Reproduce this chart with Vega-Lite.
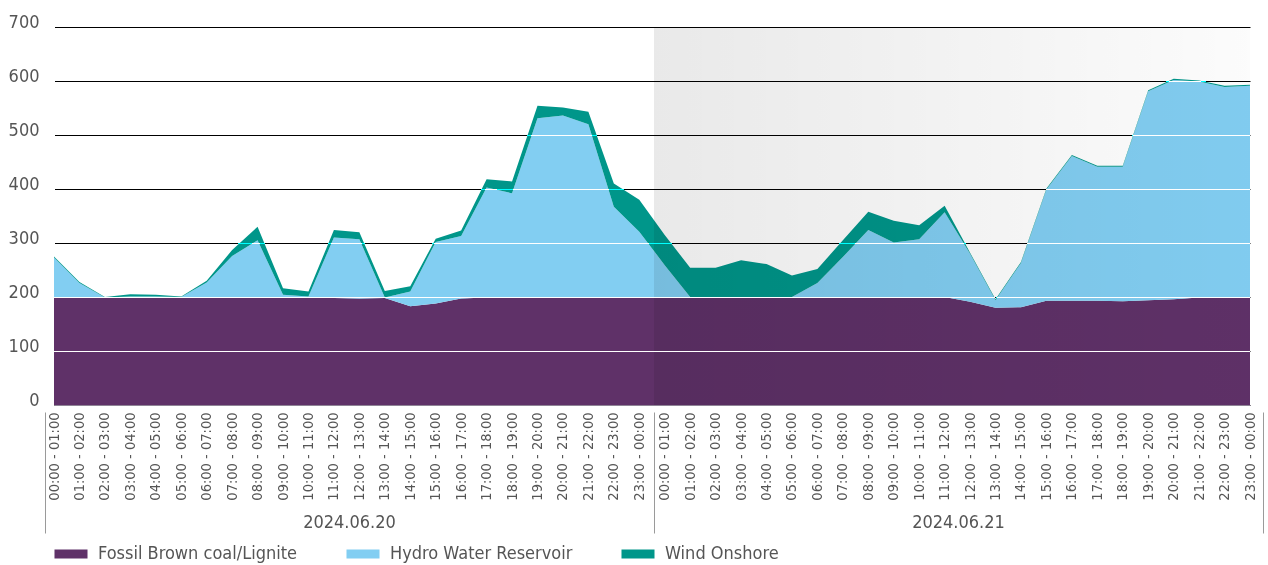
{
  "$schema": "https://vega.github.io/schema/vega-lite/v6.json",
  "width": 1196,
  "height": 378,
  "autosize": {"type": "none"},
  "padding": {"left": 54, "top": 27, "right": 18, "bottom": 160},
  "background": "white",
  "config": {
    "view": {"stroke": null},
    "font": "DejaVu Sans Condensed, Liberation Sans Narrow, DejaVu Sans, sans-serif"
  },
  "datasets": {
    "energy": [
      {"date": "2024.06.20", "hour": "00:00 - 01:00", "Fossil Brown coal/Lignite": 200, "Hydro Water Reservoir": 73, "Wind Onshore": 2},
      {"date": "2024.06.20", "hour": "01:00 - 02:00", "Fossil Brown coal/Lignite": 200, "Hydro Water Reservoir": 26, "Wind Onshore": 2},
      {"date": "2024.06.20", "hour": "02:00 - 03:00", "Fossil Brown coal/Lignite": 198, "Hydro Water Reservoir": 1, "Wind Onshore": 1},
      {"date": "2024.06.20", "hour": "03:00 - 04:00", "Fossil Brown coal/Lignite": 198, "Hydro Water Reservoir": 3, "Wind Onshore": 4},
      {"date": "2024.06.20", "hour": "04:00 - 05:00", "Fossil Brown coal/Lignite": 198, "Hydro Water Reservoir": 3, "Wind Onshore": 3},
      {"date": "2024.06.20", "hour": "05:00 - 06:00", "Fossil Brown coal/Lignite": 198, "Hydro Water Reservoir": 2, "Wind Onshore": 1},
      {"date": "2024.06.20", "hour": "06:00 - 07:00", "Fossil Brown coal/Lignite": 200, "Hydro Water Reservoir": 27, "Wind Onshore": 3},
      {"date": "2024.06.20", "hour": "07:00 - 08:00", "Fossil Brown coal/Lignite": 200, "Hydro Water Reservoir": 76, "Wind Onshore": 11},
      {"date": "2024.06.20", "hour": "08:00 - 09:00", "Fossil Brown coal/Lignite": 200, "Hydro Water Reservoir": 105, "Wind Onshore": 25},
      {"date": "2024.06.20", "hour": "09:00 - 10:00", "Fossil Brown coal/Lignite": 200, "Hydro Water Reservoir": 4, "Wind Onshore": 12},
      {"date": "2024.06.20", "hour": "10:00 - 11:00", "Fossil Brown coal/Lignite": 199, "Hydro Water Reservoir": 2, "Wind Onshore": 9},
      {"date": "2024.06.20", "hour": "11:00 - 12:00", "Fossil Brown coal/Lignite": 198, "Hydro Water Reservoir": 112, "Wind Onshore": 14},
      {"date": "2024.06.20", "hour": "12:00 - 13:00", "Fossil Brown coal/Lignite": 197, "Hydro Water Reservoir": 110, "Wind Onshore": 13},
      {"date": "2024.06.20", "hour": "13:00 - 14:00", "Fossil Brown coal/Lignite": 198, "Hydro Water Reservoir": 1, "Wind Onshore": 12},
      {"date": "2024.06.20", "hour": "14:00 - 15:00", "Fossil Brown coal/Lignite": 183, "Hydro Water Reservoir": 27, "Wind Onshore": 10},
      {"date": "2024.06.20", "hour": "15:00 - 16:00", "Fossil Brown coal/Lignite": 188, "Hydro Water Reservoir": 114, "Wind Onshore": 6},
      {"date": "2024.06.20", "hour": "16:00 - 17:00", "Fossil Brown coal/Lignite": 197, "Hydro Water Reservoir": 116, "Wind Onshore": 10},
      {"date": "2024.06.20", "hour": "17:00 - 18:00", "Fossil Brown coal/Lignite": 199, "Hydro Water Reservoir": 204, "Wind Onshore": 15},
      {"date": "2024.06.20", "hour": "18:00 - 19:00", "Fossil Brown coal/Lignite": 199, "Hydro Water Reservoir": 193, "Wind Onshore": 22},
      {"date": "2024.06.20", "hour": "19:00 - 20:00", "Fossil Brown coal/Lignite": 199, "Hydro Water Reservoir": 332, "Wind Onshore": 23},
      {"date": "2024.06.20", "hour": "20:00 - 21:00", "Fossil Brown coal/Lignite": 200, "Hydro Water Reservoir": 336, "Wind Onshore": 15},
      {"date": "2024.06.20", "hour": "21:00 - 22:00", "Fossil Brown coal/Lignite": 200, "Hydro Water Reservoir": 320, "Wind Onshore": 23},
      {"date": "2024.06.20", "hour": "22:00 - 23:00", "Fossil Brown coal/Lignite": 200, "Hydro Water Reservoir": 167, "Wind Onshore": 43},
      {"date": "2024.06.20", "hour": "23:00 - 00:00", "Fossil Brown coal/Lignite": 200, "Hydro Water Reservoir": 121, "Wind Onshore": 59},
      {"date": "2024.06.21", "hour": "00:00 - 01:00", "Fossil Brown coal/Lignite": 200, "Hydro Water Reservoir": 59, "Wind Onshore": 56},
      {"date": "2024.06.21", "hour": "01:00 - 02:00", "Fossil Brown coal/Lignite": 200, "Hydro Water Reservoir": 0, "Wind Onshore": 54},
      {"date": "2024.06.21", "hour": "02:00 - 03:00", "Fossil Brown coal/Lignite": 200, "Hydro Water Reservoir": 0, "Wind Onshore": 54},
      {"date": "2024.06.21", "hour": "03:00 - 04:00", "Fossil Brown coal/Lignite": 200, "Hydro Water Reservoir": 0, "Wind Onshore": 68},
      {"date": "2024.06.21", "hour": "04:00 - 05:00", "Fossil Brown coal/Lignite": 200, "Hydro Water Reservoir": 0, "Wind Onshore": 61},
      {"date": "2024.06.21", "hour": "05:00 - 06:00", "Fossil Brown coal/Lignite": 200, "Hydro Water Reservoir": 0, "Wind Onshore": 40},
      {"date": "2024.06.21", "hour": "06:00 - 07:00", "Fossil Brown coal/Lignite": 200, "Hydro Water Reservoir": 26, "Wind Onshore": 26},
      {"date": "2024.06.21", "hour": "07:00 - 08:00", "Fossil Brown coal/Lignite": 200, "Hydro Water Reservoir": 74, "Wind Onshore": 31},
      {"date": "2024.06.21", "hour": "08:00 - 09:00", "Fossil Brown coal/Lignite": 200, "Hydro Water Reservoir": 124, "Wind Onshore": 34},
      {"date": "2024.06.21", "hour": "09:00 - 10:00", "Fossil Brown coal/Lignite": 200, "Hydro Water Reservoir": 101, "Wind Onshore": 40},
      {"date": "2024.06.21", "hour": "10:00 - 11:00", "Fossil Brown coal/Lignite": 200, "Hydro Water Reservoir": 107, "Wind Onshore": 26},
      {"date": "2024.06.21", "hour": "11:00 - 12:00", "Fossil Brown coal/Lignite": 200, "Hydro Water Reservoir": 157, "Wind Onshore": 12},
      {"date": "2024.06.21", "hour": "12:00 - 13:00", "Fossil Brown coal/Lignite": 191, "Hydro Water Reservoir": 89, "Wind Onshore": 2},
      {"date": "2024.06.21", "hour": "13:00 - 14:00", "Fossil Brown coal/Lignite": 180, "Hydro Water Reservoir": 14, "Wind Onshore": 2},
      {"date": "2024.06.21", "hour": "14:00 - 15:00", "Fossil Brown coal/Lignite": 181, "Hydro Water Reservoir": 82, "Wind Onshore": 2},
      {"date": "2024.06.21", "hour": "15:00 - 16:00", "Fossil Brown coal/Lignite": 193, "Hydro Water Reservoir": 206, "Wind Onshore": 2},
      {"date": "2024.06.21", "hour": "16:00 - 17:00", "Fossil Brown coal/Lignite": 193, "Hydro Water Reservoir": 268, "Wind Onshore": 2},
      {"date": "2024.06.21", "hour": "17:00 - 18:00", "Fossil Brown coal/Lignite": 193, "Hydro Water Reservoir": 248, "Wind Onshore": 2},
      {"date": "2024.06.21", "hour": "18:00 - 19:00", "Fossil Brown coal/Lignite": 192, "Hydro Water Reservoir": 249, "Wind Onshore": 2},
      {"date": "2024.06.21", "hour": "19:00 - 20:00", "Fossil Brown coal/Lignite": 194, "Hydro Water Reservoir": 387, "Wind Onshore": 2},
      {"date": "2024.06.21", "hour": "20:00 - 21:00", "Fossil Brown coal/Lignite": 196, "Hydro Water Reservoir": 406, "Wind Onshore": 2},
      {"date": "2024.06.21", "hour": "21:00 - 22:00", "Fossil Brown coal/Lignite": 199, "Hydro Water Reservoir": 400, "Wind Onshore": 2},
      {"date": "2024.06.21", "hour": "22:00 - 23:00", "Fossil Brown coal/Lignite": 200, "Hydro Water Reservoir": 389, "Wind Onshore": 2},
      {"date": "2024.06.21", "hour": "23:00 - 00:00", "Fossil Brown coal/Lignite": 200, "Hydro Water Reservoir": 391, "Wind Onshore": 2}
    ],
    "days": [{"date": "2024.06.20"}, {"date": "2024.06.21"}],
    "grid": [{"v": 100}, {"v": 200}, {"v": 300}, {"v": 400}, {"v": 500}, {"v": 600}, {"v": 700}]
  },
  "layer": [
    {
      "data": {"name": "energy"},
      "transform": [
        {"fold": ["Fossil Brown coal/Lignite", "Hydro Water Reservoir", "Wind Onshore"], "as": ["source", "value"]},
        {"calculate": "datum.date + ' ' + datum.hour", "as": "slot"}
      ],
      "mark": {"type": "area", "interpolate": "linear"},
      "encoding": {
        "x": {
          "field": "slot", "type": "ordinal", "sort": null,
          "scale": {"type": "point", "padding": 0},
          "axis": {
            "title": null, "orient": "bottom", "zindex": 1,
            "labelExpr": "slice(datum.label, 11)",
            "labelAngle": 270, "labelOverlap": false, "labelPadding": 7,
            "labelFontSize": 14.5, "labelColor": "#555555",
            "ticks": false, "grid": false,
            "domain": true, "domainColor": "#8f8496", "domainWidth": 1
          }
        },
        "y": {
          "field": "value", "type": "quantitative", "stack": "zero",
          "scale": {"domain": [0, 700], "nice": false, "zero": true},
          "axis": {
            "title": null, "values": [0, 100, 200, 300, 400, 500, 600, 700],
            "grid": true, "gridColor": "#000000", "gridWidth": 1, "gridOpacity": 1,
            "domain": false, "ticks": false,
            "labelPadding": 15, "labelFontSize": 18, "labelColor": "#555555",
            "labelBaseline": "alphabetic", "labelOffset": 0
          }
        },
        "color": {
          "field": "source", "type": "nominal",
          "scale": {
            "domain": ["Fossil Brown coal/Lignite", "Hydro Water Reservoir", "Wind Onshore"],
            "range": ["#5f3168", "#82cef2", "#00968a"]
          },
          "legend": {
            "title": null, "orient": "bottom", "direction": "horizontal",
            "symbolType": "M-1,-0.27L1,-0.27L1,0.27L-1,0.27Z", "symbolSize": 1090,
            "symbolStrokeWidth": 0, "labelLimit": 0,
            "labelFontSize": 18, "labelColor": "#555555", "labelOffset": 10,
            "columnPadding": 48, "offset": 3
          }
        },
        "order": {"field": "source", "type": "nominal", "sort": "ascending"}
      }
    },
    {
      "data": {"name": "days"},
      "mark": {
        "type": "rect", "clip": true,
        "color": {
          "gradient": "linear", "x1": 0, "y1": 0, "x2": 1, "y2": 0,
          "stops": [
            {"offset": 0, "color": "rgba(0,0,0,0.085)"},
            {"offset": 1, "color": "rgba(0,0,0,0.01)"}
          ]
        }
      },
      "encoding": {
        "x": {
          "field": "date", "type": "ordinal",
          "scale": {"type": "band", "paddingInner": 0, "paddingOuter": 0, "range": [-9, 1209]},
          "axis": {
            "title": null, "orient": "bottom", "offset": 7,
            "domain": false, "grid": false,
            "ticks": true, "tickSize": 121, "tickColor": "#9a9a9a", "tickWidth": 1,
            "bandPosition": 1, "tickExtra": true,
            "labelAngle": 0, "labelPadding": -11, "labelBaseline": "middle",
            "labelFontSize": 18, "labelColor": "#555555"
          }
        },
        "opacity": {"condition": {"test": "datum.date == '2024.06.21'", "value": 1}, "value": 0}
      }
    },
    {
      "data": {"name": "grid"},
      "mark": {"type": "rule", "color": "white", "strokeWidth": 1, "blend": "color-dodge", "yOffset": 0.5},
      "encoding": {
        "y": {"field": "v", "type": "quantitative"}
      }
    }
  ],
  "resolve": {"scale": {"x": "independent"}, "axis": {"x": "independent"}}
}
